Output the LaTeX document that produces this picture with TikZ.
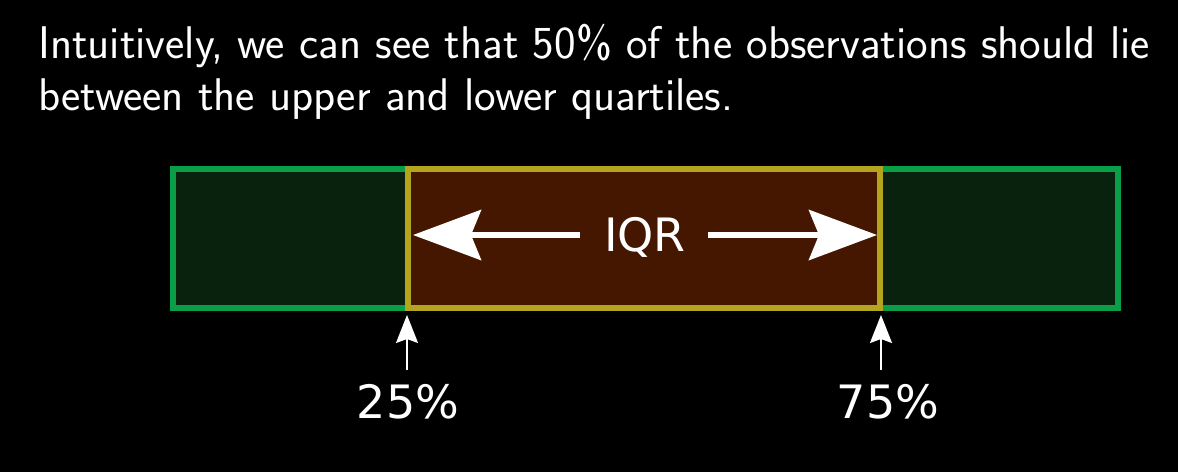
\documentclass[tikz,border=0pt]{standalone}
\usepackage{fontspec}
\newfontfamily\dejavu{DejaVu Sans}
\usetikzlibrary{arrows.meta}
\definecolor{boxgreen}{RGB}{10,158,72}
\definecolor{fillgreen}{RGB}{8,34,14}
\definecolor{boxyellow}{RGB}{180,165,30}
\definecolor{fillbrown}{RGB}{69,22,0}
\tikzset{
  headtext/.style={anchor=base west, inner sep=0pt, text=white, font=\sffamily\fontsize{45.8}{52}\selectfont},
  lbl/.style={inner sep=0pt, text=white, font=\dejavu\fontsize{46}{55}\selectfont},
  region/.style={line width=5.5pt, inner sep=0pt, outer sep=0pt, anchor=north west, minimum height=139pt},
  bigarrow/.style={white, line width=6pt, -{Stealth[length=68pt, width=50pt, inset=10pt]}},
  smallarrow/.style={white, line width=1.8pt, -{Stealth[length=28pt, width=22pt, inset=4pt]}},
}
\begin{document}
\begin{tikzpicture}[x=1pt,y=-1pt]
\fill[black] (0,0) rectangle (1178,472);
\useasboundingbox (0,0) rectangle (1178,472);
\node[headtext] (line1) at (38,58) {Intuitively, we can see that 50\% of the observations should lie};
\node[headtext] (line2) at (38,110) {between the upper and lower quartiles.};
\node[region, draw=boxgreen, fill=fillgreen, minimum width=945pt] (outer) at (173,169) {};
\node[region, draw=boxyellow, fill=fillbrown, minimum width=472pt] (iqrbox) at (408,169) {};
\node[lbl, anchor=center] (iqr) at (645,237) {IQR};
\coordinate (ltip) at (413,235);
\coordinate (rtip) at (877,235);
\coordinate (lstart) at (580,235);
\coordinate (rstart) at (708,235);
\draw[bigarrow] (lstart) -- (ltip);
\draw[bigarrow] (rstart) -- (rtip);
\node[lbl, anchor=base] (q1) at (408,418) {25\%};
\node[lbl, anchor=base] (q3) at (888,418) {75\%};
\coordinate (q1tip) at (407,315);
\coordinate (q3tip) at (881,315);
\coordinate (q1start) at (407,370);
\coordinate (q3start) at (881,370);
\draw[smallarrow] (q1start) -- (q1tip);
\draw[smallarrow] (q3start) -- (q3tip);
\end{tikzpicture}
\end{document}
